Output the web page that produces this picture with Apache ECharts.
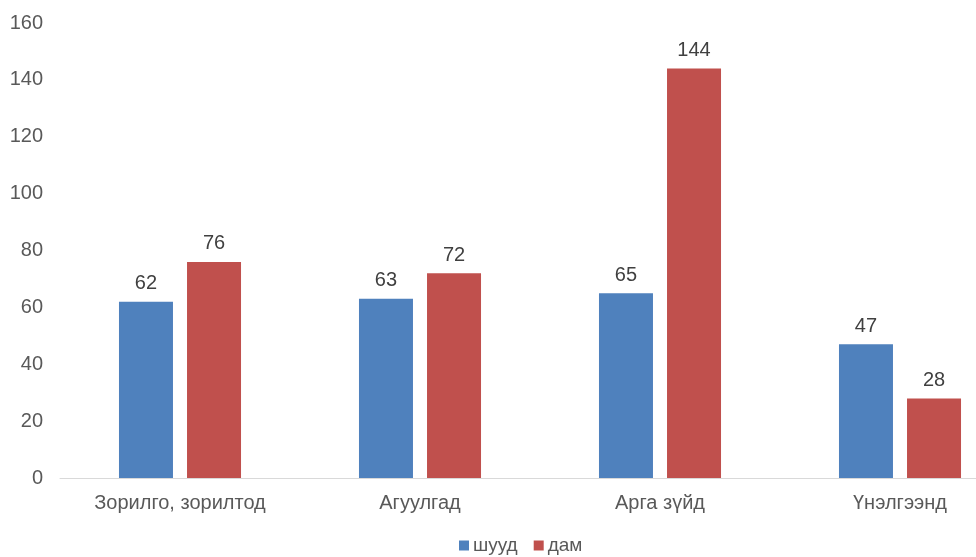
<!DOCTYPE html>
<html><head><meta charset="utf-8">
<script src="https://cdn.jsdelivr.net/npm/echarts@6/dist/echarts.min.js"></script>
<style>html,body{margin:0;padding:0;background:#fff;overflow:hidden;width:976px;height:557px}#c{width:1020px;height:557px}</style>
</head><body><div id="c"></div>
<script>
const categories = ["Зорилго, зорилтод", "Агуулгад", "Арга зүйд", "Үнэлгээнд"];
const shuud = [62, 63, 65, 47];
const dam = [76, 72, 144, 28];
const seriesNames = ["шууд", "дам"];

const font = "Arial, 'Liberation Sans', sans-serif";
const chart = echarts.init(document.getElementById('c'));
const lbl = {show: true, position: 'top', distance: 8, color: '#404040', fontSize: 20, fontFamily: font};
chart.setOption({
  animation: false,
  grid: {left: 60, right: 0, top: 23, bottom: 79},
  legend: {
    data: seriesNames, left: 454, top: 531, itemWidth: 10, itemHeight: 10, itemGap: 16,
    icon: 'rect',
    textStyle: {color: '#595959', fontSize: 19, fontFamily: font, padding: [0,0,0,-1]}
  },
  xAxis: {
    type: 'category', data: categories,
    axisLine: {lineStyle: {color: '#d9d9d9', width: 1}},
    axisTick: {show: false},
    axisLabel: {color: '#595959', fontSize: 20, fontFamily: font, margin: 15}
  },
  yAxis: {
    type: 'value', min: 0, max: 160, interval: 20,
    axisLine: {show: false}, axisTick: {show: false},
    splitLine: {show: false},
    axisLabel: {color: '#595959', fontSize: 20, fontFamily: font, margin: 17}
  },
  series: [
    {name: seriesNames[0], type: 'bar', data: shuud, barWidth: 54, barGap: '26%',
     itemStyle: {color: '#4f81bd'}, label: lbl},
    {name: seriesNames[1], type: 'bar', data: dam, barWidth: 54,
     itemStyle: {color: '#c0504d'}, label: lbl}
  ]
});
</script></body></html>
